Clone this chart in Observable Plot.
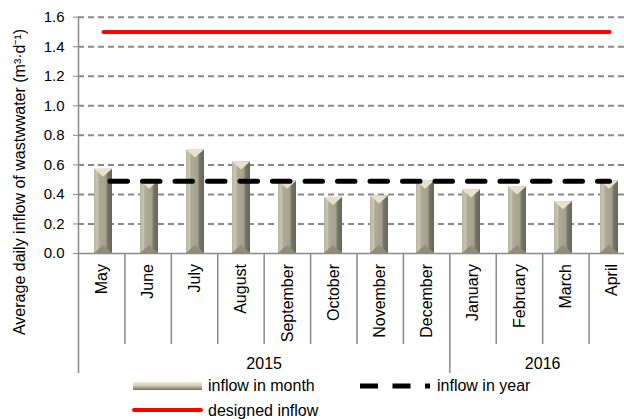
<!DOCTYPE html>
<html>
<head>
<meta charset="utf-8">
<script src="https://cdn.jsdelivr.net/npm/d3@7"></script>
<script src="https://cdn.jsdelivr.net/npm/@observablehq/plot@0.6"></script>
<style>
  html, body { margin: 0; padding: 0; background: #fff; }
  #wrap { position: relative; width: 624px; height: 419px; overflow: hidden; font-family: "Liberation Sans", Arial, sans-serif; }
  #wrap > svg { position: absolute; left: 0; top: 0; }
</style>
</head>
<body>
<div id="wrap"></div>
<script>
// ---- data ----
const months = ["May","June","July","August","September","October","November","December","January","February","March","April"];
const monthlyInflow = [0.57, 0.49, 0.70, 0.62, 0.49, 0.38, 0.39, 0.49, 0.43, 0.45, 0.35, 0.49];
const yearlyInflow = 0.49;
const designedInflow = 1.5;
const years = ["2015", "2016"];
const monthsPerYear = [8, 4];
const yTicks = [0, 0.2, 0.4, 0.6, 0.8, 1.0, 1.2, 1.4, 1.6];
const yLabel = "Average daily inflow of wastwwater (m³·d⁻¹)";
const legendLabels = ["inflow in month", "inflow in year", "designed inflow"];

const FONT = "'Liberation Sans', Arial, sans-serif";
const GRID = "#8a8a8a";
const X_RANGE = [78, 635];   // shared horizontal extent of the category axis (right end is cropped)

const monthData = months.map((m, i) => ({month: m, value: monthlyInflow[i], idx: i}));
const yearlyData = months.map(m => ({month: m, value: yearlyInflow}));
const designedData = months.map(m => ({month: m, value: designedInflow}));

const yearStarts = [];
{ let s = 0; monthsPerYear.forEach(n => { yearStarts.push(s); s += n; }); }
const yearData = years.map((y, i) => ({year: y, start: yearStarts[i], end: yearStarts[i] + monthsPerYear[i]}));
const monthBoundaries = d3.range(1, months.length).filter(b => !yearStarts.includes(b));

const wrap = document.getElementById("wrap");

// ---- main chart ----
const main = Plot.plot({
  width: 624, height: 419,
  marginLeft: 78, marginRight: 0, marginTop: 16.7, marginBottom: 166,
  style: {fontFamily: FONT, fontSize: "15px", color: "#000", background: "transparent"},
  x: {type: "band", domain: months, range: X_RANGE, paddingInner: 0.6, paddingOuter: 0.3, axis: null},
  y: {domain: [0, 1.6], range: [253, 16.7], axis: null},
  marks: [
    Plot.gridY(yTicks.filter(d => d > 0), {stroke: GRID, strokeOpacity: 1, strokeWidth: 2, strokeDasharray: "6,4"}),
    Plot.barY(monthData, {x: "month", y: "value", fill: "url(#barGrad)"}),
    Plot.ruleY([0], {stroke: GRID, strokeWidth: 1.5}),
    Plot.frame({anchor: "left", stroke: GRID, strokeWidth: 1.5}),
    Plot.axisY({ticks: yTicks, tickFormat: d => d.toFixed(1), tickSize: 5, tickPadding: 9, stroke: GRID, fontSize: 15, color: "#000", label: null}),
    Plot.lineY(designedData, {x: "month", y: "value", stroke: "#ff0000", strokeWidth: 4, strokeLinecap: "round"}),
    Plot.lineY(yearlyData, {x: "month", y: "value", stroke: "#000", strokeWidth: 5, strokeDasharray: "17.5,15", strokeDashoffset: 26}),
    Plot.text([yLabel], {frameAnchor: "left", rotate: -90, dx: -59, dy: 46.6, fontSize: 16, fill: "#000", textAnchor: "middle", lineAnchor: "middle"})
  ]
});
wrap.appendChild(main);

// gradient + bevel for columns
const ms = d3.select(main);
const defs = ms.insert("defs", ":first-child");
const g = defs.append("linearGradient").attr("id", "barGrad").attr("x1", "0").attr("x2", "1").attr("y1", "0").attr("y2", "0");
[["0%", "#b9b6a0"], ["22%", "#cbc8b2"], ["26%", "#aeac96"], ["68%", "#a3a18b"], ["72%", "#7a7869"], ["100%", "#66655a"]]
  .forEach(([o, c]) => g.append("stop").attr("offset", o).attr("stop-color", c));
ms.selectAll('g[aria-label="bar"] rect').each(function() {
  const r = d3.select(this);
  const x = +r.attr("x"), y = +r.attr("y"), w = +r.attr("width"), h = +r.attr("height");
  const p = d3.select(this.parentNode);
  p.append("polygon").attr("points", `${x},${y} ${x + w},${y} ${x + w / 2},${y + 8}`).attr("fill", "#e6e3cc");
  p.append("polygon").attr("points", `${x},${y + h} ${x + w},${y + h} ${x + w / 2},${y + h - 8}`).attr("fill", "#8f8d7a");
});

// ---- category axis (two-level), same horizontal extent as the bars ----
const cat = Plot.plot({
  width: 624, height: 419,
  marginLeft: 78, marginRight: 0, marginTop: 253, marginBottom: 46,
  style: {fontFamily: FONT, fontSize: "16px", color: "#000", background: "transparent"},
  x: {type: "linear", domain: [0, months.length], range: X_RANGE, axis: null},
  y: {type: "linear", domain: [0, 120], range: [253, 373], axis: null},
  marks: [
    Plot.ruleX(monthBoundaries, {y1: 0, y2: 91, stroke: GRID, strokeWidth: 1.5}),
    Plot.ruleX(yearStarts, {y1: 0, y2: 120, stroke: GRID, strokeWidth: 1.5}),
    Plot.text(monthData, {x: d => d.idx + 0.5, y: 10.5, text: "month", rotate: -90, textAnchor: "end", lineAnchor: "middle", fontSize: 16, fill: "#000"}),
    Plot.text(yearData, {x: d => (d.start + d.end) / 2, y: 110, text: "year", textAnchor: "middle", lineAnchor: "middle", fontSize: 16, fill: "#000"})
  ]
});
wrap.appendChild(cat);

// ---- legend ----
const leg = d3.select(wrap).append("svg").attr("width", 624).attr("height", 419)
  .style("font-family", FONT).style("font-size", "16px");
const ld = leg.append("defs");
const lg = ld.append("linearGradient").attr("id", "legGrad").attr("x1", "0").attr("x2", "0").attr("y1", "0").attr("y2", "1");
[["0%", "#ecead6"], ["45%", "#d2cfb8"], ["100%", "#6f6e62"]].forEach(([o, c]) => lg.append("stop").attr("offset", o).attr("stop-color", c));
leg.append("rect").attr("x", 133).attr("y", 382).attr("width", 69).attr("height", 8).attr("fill", "url(#legGrad)");
leg.append("text").attr("x", 208).attr("y", 385.5).attr("dy", "0.35em").text(legendLabels[0]);
leg.append("line").attr("x1", 360).attr("x2", 430).attr("y1", 386).attr("y2", 386)
  .attr("stroke", "#000").attr("stroke-width", 5).attr("stroke-dasharray", "18,14.5");
leg.append("text").attr("x", 437).attr("y", 385.5).attr("dy", "0.35em").text(legendLabels[1]);
leg.append("line").attr("x1", 134).attr("x2", 201).attr("y1", 410).attr("y2", 410)
  .attr("stroke", "#ff0000").attr("stroke-width", 4).attr("stroke-linecap", "round");
leg.append("text").attr("x", 208).attr("y", 410.5).attr("dy", "0.35em").text(legendLabels[2]);
</script>
</body>
</html>
